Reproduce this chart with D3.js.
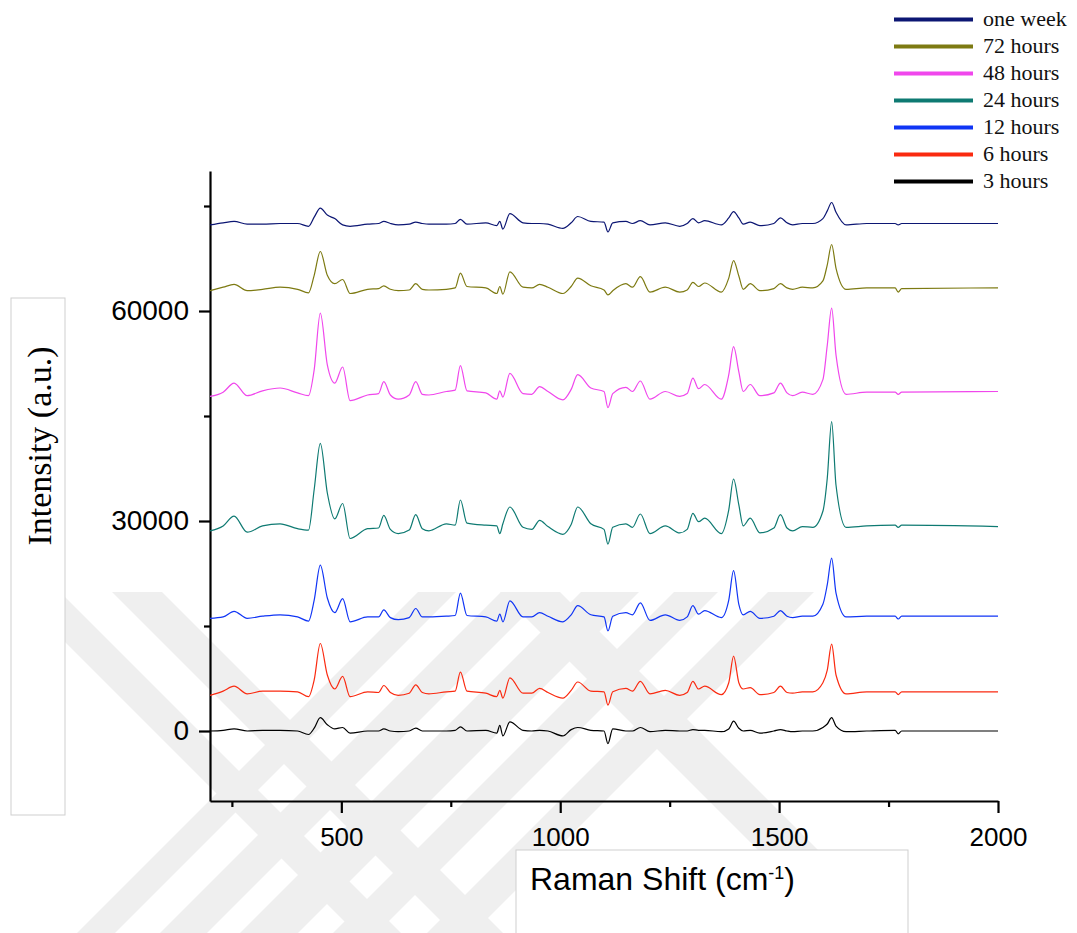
<!DOCTYPE html>
<html>
<head>
<meta charset="utf-8">
<script src="https://cdn.jsdelivr.net/npm/d3@7"></script>
<style>
  body { margin: 0; background: #fff; }
  svg { display: block; }
</style>
</head>
<body>
<svg id="raman-chart"></svg>
<script>
// Raman shift grid (cm-1) shared by every spectrum
const shifts = [200, 230, 255, 285, 320, 360, 400, 425, 438, 452,
    468, 485, 503, 520, 560, 585, 597, 612, 630, 655,
    670, 685, 700, 740, 760, 772, 787, 830, 855, 862,
    869, 885, 915, 935, 953, 972, 1006, 1025, 1040, 1070,
    1100, 1109, 1120, 1150, 1165, 1183, 1205, 1240, 1273, 1290,
    1303, 1316, 1330, 1368, 1385, 1396, 1408, 1418, 1434, 1456,
    1488, 1503, 1518, 1531, 1553, 1577, 1600, 1610, 1620, 1630,
    1653, 1700, 1765, 1772, 1780, 2000];

const hours3 = [0, 100, 300, 0, 100, 100, 0, -500, 400, 1900,
    900, 300, 500, -300, 0, 0, 300, 0, -100, 0,
    400, 0, 0, 0, 100, 600, 0, 100, -300, 800,
    -700, 1300, 100, 0, 100, 0, -700, 200, 500, 100,
    0, -1800, 300, 0, 0, 500, -100, 100, 0, 0,
    200, 100, 100, -100, 300, 1400, 400, 0, 100, -300,
    0, 200, 0, -100, 0, 0, 500, 1000, 1900, 700,
    -100, 0, 100, -400, 0, 0];

const hours6 = [5100, 5700, 6400, 5300, 5700, 5700, 5600, 4900, 7300, 12500,
    8000, 6000, 7800, 4900, 5600, 5500, 6500, 5500, 5100, 5400,
    6600, 5500, 5300, 5600, 5700, 8400, 5700, 5400, 4900, 5800,
    4700, 7600, 5400, 5400, 6100, 5500, 4700, 5800, 7000, 5700,
    5600, 3700, 5600, 6100, 5700, 7100, 5300, 5800, 5100, 5500,
    7100, 6000, 6400, 5200, 6900, 10700, 6900, 6000, 6200, 5200,
    5500, 6400, 5500, 5400, 5600, 5600, 6900, 8700, 12400, 8000,
    5300, 5600, 5600, 5200, 5600, 5600];

const hours12 = [16100, 16300, 17100, 16100, 16400, 16600, 16300, 15700, 18700, 23700,
    19000, 16900, 18900, 15600, 16300, 16300, 17300, 16200, 15900, 16200,
    17500, 16300, 16300, 16400, 16500, 19700, 16500, 16300, 15700, 16700,
    15600, 18600, 16300, 16300, 16900, 16400, 15600, 16600, 17900, 16600,
    16300, 14300, 16400, 16900, 16600, 18300, 15800, 16600, 15800, 16300,
    17900, 16700, 17200, 16200, 18700, 22900, 18100, 16600, 17100, 16100,
    16400, 17200, 16400, 16200, 16400, 16400, 18100, 20900, 24700, 19700,
    16300, 16400, 16400, 16000, 16400, 16400];

const hours24 = [28600, 29300, 30700, 28400, 29300, 29600, 28900, 28700, 34500, 41100,
    34000, 30300, 32500, 27500, 28900, 29000, 30800, 28800, 28200, 28700,
    30900, 28900, 28600, 29600, 29400, 33000, 29700, 29400, 29300, 28200,
    29600, 32000, 29100, 28800, 30100, 29200, 28100, 29500, 32000, 29600,
    28800, 26700, 29100, 29600, 29100, 31000, 28200, 29300, 28300, 28800,
    31100, 29900, 30400, 28200, 31600, 36000, 32300, 29300, 30400, 28300,
    29000, 30900, 29000, 28600, 29200, 29100, 31400, 36100, 44200, 35100,
    29100, 29300, 29400, 29100, 29400, 29200];

const hours48 = [47800, 48400, 49700, 47900, 48600, 49000, 48300, 47900, 51600, 59700,
    52300, 49700, 52000, 47200, 48000, 48200, 49900, 48000, 47400, 48000,
    49900, 48100, 48000, 48500, 48700, 52200, 48600, 48300, 47400, 48600,
    47700, 51100, 48200, 48100, 49200, 48500, 47300, 48800, 50900, 49000,
    48500, 46200, 48200, 49100, 48500, 50000, 47400, 48500, 47800, 48200,
    50400, 48900, 49500, 47400, 50900, 54900, 51300, 48500, 49500, 47900,
    48300, 49700, 48300, 47900, 48400, 48100, 50200, 55100, 60400, 53700,
    48100, 48400, 48400, 48100, 48400, 48500];

const hours72 = [62900, 63400, 63800, 62900, 63100, 63400, 63100, 62600, 65100, 68500,
    65100, 63900, 64500, 62500, 63100, 63200, 63600, 63100, 62900, 63000,
    63900, 63100, 63000, 63100, 63300, 65400, 63500, 63300, 62500, 63500,
    62400, 65600, 63400, 63300, 63800, 63400, 62500, 63500, 64700, 63600,
    63000, 62300, 62900, 63900, 63400, 64900, 62700, 63400, 62700, 63000,
    64100, 63500, 64000, 62700, 64700, 67200, 65000, 63100, 63900, 62900,
    63200, 63900, 63300, 63100, 63400, 63300, 64300, 66600, 69500, 66100,
    63100, 63300, 63300, 62700, 63200, 63300];

const oneWeek = [72300, 72600, 72800, 72400, 72400, 72500, 72500, 72100, 73400, 74700,
    73700, 73200, 72300, 72100, 72400, 72500, 72800, 72500, 72300, 72400,
    72700, 72500, 72400, 72400, 72500, 73100, 72400, 72600, 72200, 72800,
    71700, 73900, 72600, 72500, 72500, 72400, 71800, 72600, 73500, 72800,
    72700, 71300, 72600, 72800, 72500, 72900, 72300, 72600, 72100, 72500,
    73200, 72600, 72900, 72300, 73300, 74200, 73300, 72400, 72700, 72200,
    72500, 73300, 72600, 72300, 72500, 72500, 73200, 74300, 75500, 74100,
    72300, 72500, 72500, 72300, 72500, 72500];

const seriesNames = ["one week", "72 hours", "48 hours", "24 hours", "12 hours", "6 hours", "3 hours"];
const seriesValues = [oneWeek, hours72, hours48, hours24, hours12, hours6, hours3];
const seriesColors = ["#0c1673", "#7d7a12", "#f047ec", "#0e7a72", "#1035f5", "#fa2a10", "#000000"];

const xMajorTicks = [500, 1000, 1500, 2000];
const xMinorTicks = [250, 750, 1250, 1750];
const yMajorTicks = [0, 30000, 60000];
const yMinorTicks = [15000, 45000, 75000];

const WIDTH = 1077;
const HEIGHT = 933;
const PLOT = { left: 210, right: 998, top: 171, bottom: 801 };
const SANS = "'Liberation Sans', Arial, sans-serif";
const SERIF = "'Liberation Serif', 'Times New Roman', serif";

const svg = d3.select("#raman-chart")
    .attr("width", WIDTH)
    .attr("height", HEIGHT);

// faint watermark stripes in the lower half
svg.append("clipPath").attr("id", "wm-clip")
    .append("rect").attr("x", 0).attr("y", 592).attr("width", 1010).attr("height", 341);
const watermark = svg.append("g")
    .attr("fill", "#efefef")
    .attr("clip-path", "url(#wm-clip)");
[[77, 115], [160, 207], [240, 298], [333, 377], [427, 473]].forEach(([a, b]) => {
    watermark.append("polygon")
        .attr("points", `${a},933 ${b},933 ${b + 341},592 ${a + 341},592`);
});
[[15, 60], [112, 162], [500, 560]].forEach(([a, b]) => {
    watermark.append("polygon")
        .attr("points", `${a},592 ${b},592 ${b + 341},933 ${a + 341},933`);
});

let xScale = d3.scaleLinear()
    .domain([200, 2000])
    .range([PLOT.left, PLOT.right]);

let yScale = d3.scaleLinear()
    .domain([-10000, 80000])
    .range([PLOT.bottom, PLOT.top]);

// label boxes
svg.append("rect")
    .attr("x", 11).attr("y", 298).attr("width", 54).attr("height", 517)
    .attr("fill", "#fff").attr("stroke", "#cfcfcf");
svg.append("rect")
    .attr("x", 516).attr("y", 850).attr("width", 392).attr("height", 120)
    .attr("fill", "#fff").attr("stroke", "#cfcfcf");

// axes
let xAxis = d3.axisBottom(xScale)
    .tickValues(xMajorTicks)
    .tickSize(12)
    .tickSizeOuter(0)
    .tickPadding(15)
    .tickFormat(d3.format("d"));
let xAxisG = svg.append("g")
    .classed("x-axis", true)
    .attr("transform", `translate(0, ${PLOT.bottom})`)
    .call(xAxis);
xAxisG.selectAll("text").attr("font-size", 26).attr("font-family", SANS).attr("fill", "#000");

let xMinor = svg.append("g")
    .attr("transform", `translate(0, ${PLOT.bottom})`)
    .call(d3.axisBottom(xScale).tickValues(xMinorTicks).tickSize(6).tickSizeOuter(0).tickFormat(""));
xMinor.select(".domain").remove();

let yAxis = d3.axisLeft(yScale)
    .tickValues(yMajorTicks)
    .tickSize(11)
    .tickSizeOuter(0)
    .tickPadding(10)
    .tickFormat(d3.format("d"));
let yAxisG = svg.append("g")
    .classed("y-axis", true)
    .attr("transform", `translate(${PLOT.left}, 0)`)
    .call(yAxis);
yAxisG.selectAll("text").attr("font-size", 28).attr("font-family", SANS).attr("fill", "#000");

let yMinor = svg.append("g")
    .attr("transform", `translate(${PLOT.left}, 0)`)
    .call(d3.axisLeft(yScale).tickValues(yMinorTicks).tickSize(6).tickSizeOuter(0).tickFormat(""));
yMinor.select(".domain").remove();

svg.selectAll(".x-axis path, .x-axis line, .y-axis path, .y-axis line")
    .attr("stroke", "#000").attr("stroke-width", 2.2);
xMinor.selectAll("line").attr("stroke", "#000").attr("stroke-width", 2.2);
yMinor.selectAll("line").attr("stroke", "#000").attr("stroke-width", 2.2);

// axis titles
svg.append("text")
    .attr("transform", "translate(51, 446) rotate(-90)")
    .attr("text-anchor", "middle")
    .attr("font-family", SERIF)
    .attr("font-size", 34)
    .text("Intensity (a.u.)");

let xTitle = svg.append("text")
    .attr("x", 530)
    .attr("y", 890)
    .attr("font-family", SANS)
    .attr("font-size", 32);
xTitle.append("tspan").text("Raman Shift (cm");
xTitle.append("tspan").attr("font-size", 18).attr("dy", -11).text("-1");
xTitle.append("tspan").attr("dy", 11).text(")");

// spectra
let line = d3.line()
    .x(d => xScale(d[0]))
    .y(d => yScale(d[1]))
    .curve(d3.curveMonotoneX);

svg.append("g")
    .selectAll("path")
    .data(seriesValues)
    .enter()
    .append("path")
        .attr("d", values => line(values.map((v, i) => [shifts[i], v])))
        .attr("fill", "none")
        .attr("stroke", (d, i) => seriesColors[i])
        .attr("stroke-width", 1.2)
        .attr("stroke-linejoin", "round");

// legend
let legend = svg.append("g")
    .selectAll("g")
    .data(seriesNames)
    .enter()
    .append("g")
        .attr("transform", (d, i) => `translate(0, ${19.5 + i * 27})`);

legend.append("line")
    .attr("x1", 894).attr("x2", 973)
    .attr("stroke", (d, i) => seriesColors[i])
    .attr("stroke-width", 4);

legend.append("text")
    .attr("x", 983)
    .attr("y", 6)
    .attr("font-family", SERIF)
    .attr("font-size", 22)
    .attr("fill", "#111")
    .text(d => d);
</script>
</body>
</html>
